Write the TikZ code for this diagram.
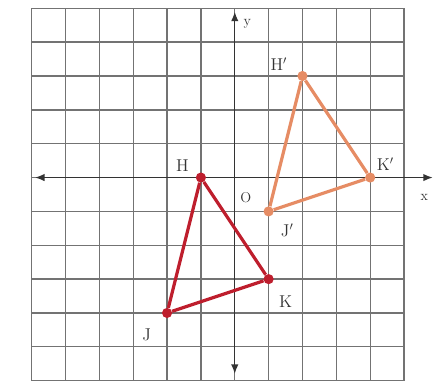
\documentclass[tikz,border=0pt]{standalone}
\usepackage{tikz}
\usetikzlibrary{arrows.meta}
\definecolor{origred}{RGB}{190,30,45}
\definecolor{imgorange}{RGB}{230,140,100}

\begin{document}
\begin{tikzpicture}[
  gridline/.style={black!55, line width=1.1pt},
  axisline/.style={{Latex[length=2.8mm,width=2.2mm]}-{Latex[length=2.8mm,width=2.2mm]}, black!80, line width=1.2pt},
  vert/.style={circle, fill=#1, inner sep=0pt, minimum size=0.3cm},
  side/.style={line width=2.7pt, #1},
  lbl/.style={font=\Large, text=black!80, inner sep=1pt},
  axlbl/.style={font=\large, text=black!80, inner sep=1pt},
]
  \useasboundingbox (-6.935,-6.257) rectangle (5.915,5.245);

  % grid
  \draw[gridline] (-6,-6) grid (5,5);

  % axes
  \coordinate (xl) at (-5.9,0);
  \coordinate (xr) at (5.85,0);
  \coordinate (yb) at (0,-5.8);
  \coordinate (yt) at (0,4.9);
  \draw[axisline] (xl) -- (xr);
  \draw[axisline] (yb) -- (yt);
  \node[axlbl] (xlab) at (5.6,-0.6) {x};
  \node[axlbl] (ylab) at (0.37,4.55) {y};
  \node[axlbl] (olab) at (0.33,-0.6) {O};

  % original triangle HJK
  \node[vert=origred] (H) at (-1,0) {};
  \node[vert=origred] (K) at (1,-3) {};
  \node[vert=origred] (J) at (-2,-4) {};
  \draw[side=origred] (H) -- (K) -- (J) -- (H);

  % image triangle H'J'K'
  \node[vert=imgorange] (Hp) at (2,3) {};
  \node[vert=imgorange] (Kp) at (4,0) {};
  \node[vert=imgorange] (Jp) at (1,-1) {};
  \draw[side=imgorange] (Hp) -- (Kp) -- (Jp) -- (Hp);

  % vertex labels
  \node[lbl] (Hlab) at (-1.55,0.35) {H};
  \node[lbl] (Klab) at (1.5,-3.68) {K};
  \node[lbl] (Jlab) at (-2.6,-4.64) {J};
  \node[lbl] (Hplab) at (1.3,3.36) {H$'$};
  \node[lbl] (Kplab) at (4.45,0.4) {K$'$};
  \node[lbl] (Jplab) at (1.55,-1.55) {J$'$};
\end{tikzpicture}
\end{document}
